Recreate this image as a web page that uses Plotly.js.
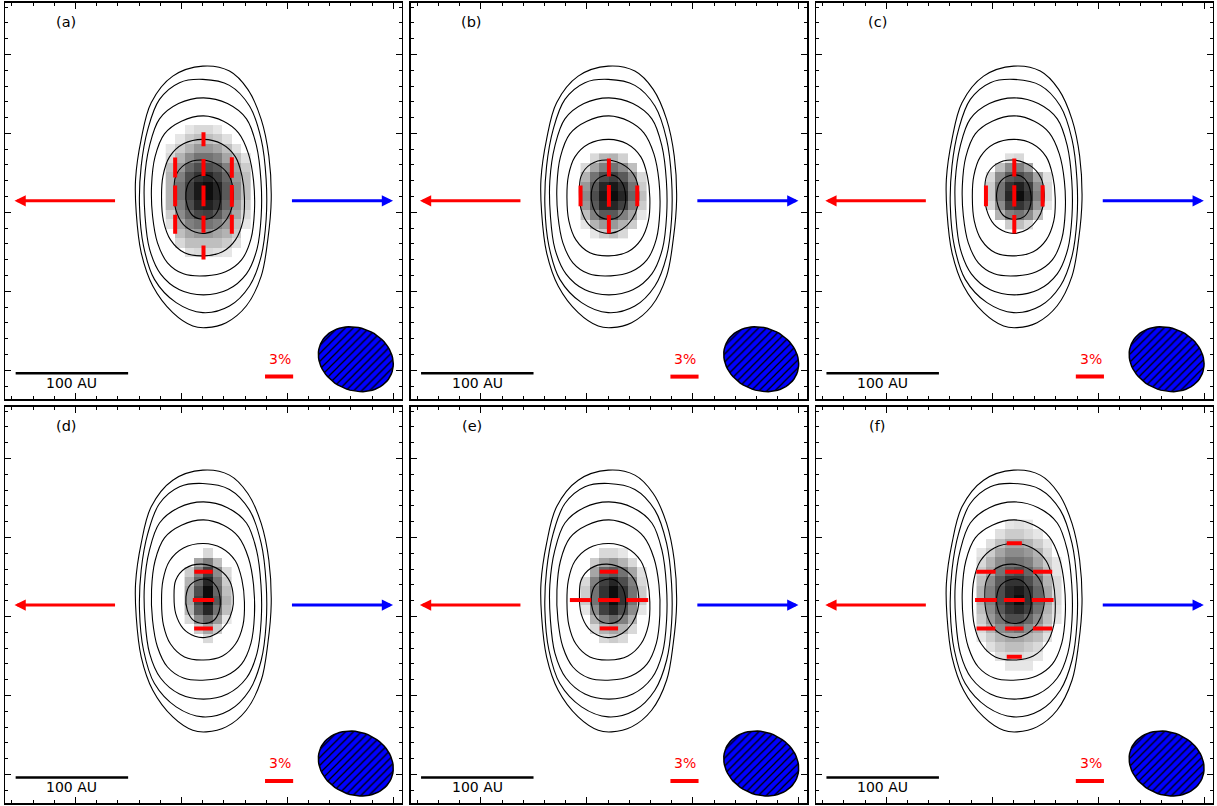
<!DOCTYPE html>
<html>
<head>
<meta charset="utf-8">
<script src="https://cdn.plot.ly/plotly-3.0.1.min.js"></script>
<style>
html,body{margin:0;padding:0;background:#ffffff;}
#chart{width:1217px;height:806px;}
</style>
</head>
<body>
<div id="chart"></div>
<script>
// ---------------- DATA (offsets in AU from the source centre) ----------------
const panelLabels = ['(a)', '(b)', '(c)', '(d)', '(e)', '(f)'];

// Stokes I contours (same in every panel)
const contour1 = [[-0.6,119.8],[-27.3,110.9],[-46.5,87.3],[-55.4,54.7],[-60.4,19.1],[-59.8,-10.5],[-55.4,-46.0],[-45.1,-75.7],[-27.3,-99.4],[-9.5,-111.3],[2.4,-112.7],[20.2,-108.3],[38.0,-93.5],[51.3,-66.9],[57.2,-34.2],[60.2,1.3],[58.1,39.8],[51.3,72.5],[39.4,99.1],[23.1,115.4]];
const contour2 = [[-0.6,108.0],[-21.3,105.1],[-39.1,90.2],[-49.5,63.6],[-55.4,30.9],[-56.9,-4.6],[-53.3,-40.2],[-43.6,-69.8],[-24.3,-90.5],[-0.6,-99.4],[23.1,-93.5],[40.9,-75.7],[51.3,-49.1],[55.7,-16.4],[55.7,19.1],[51.3,54.7],[40.9,84.3],[23.1,102.7]];
const contour3 = [[0,91.6],[-22.2,86.5],[-39.1,72.9],[-48.0,48.9],[-52.5,17.8],[-52.0,-13.3],[-48.0,-42.7],[-38.2,-64.9],[-21.3,-79.1],[0,-83.6],[21.3,-79.1],[38.2,-64.9],[47.6,-42.7],[51.3,-13.3],[51.1,17.8],[47.1,48.9],[38.2,72.9],[21.3,86.5]];
const contour4 = [[0,75.6],[-19.6,70.8],[-34.7,59.6],[-43.1,39.1],[-46.2,13.3],[-45.3,-13.3],[-40.9,-37.3],[-32.0,-55.1],[-17.8,-64.9],[1.8,-66.7],[19.6,-63.1],[33.8,-52.5],[42.2,-33.8],[45.3,-8.9],[44.5,17.8],[40.0,41.8],[31.1,60.5],[17.8,70.8]];
const contour5 = [[0,54.7],[-17.8,50.7],[-30.2,39.1],[-36.0,22.2],[-37.3,2.7],[-35.6,-17.8],[-29.3,-34.7],[-16.9,-46.2],[0,-48.9],[16.9,-45.3],[28.4,-34.7],[35.1,-17.8],[36.4,2.7],[34.2,22.2],[28.4,39.1],[16.0,50.7]];
const contour6 = [[-1.6,36.3],[-16.4,32.4],[-24.7,22.0],[-26.2,7.3],[-24.7,-7.6],[-18.0,-20.9],[-7.6,-27.7],[1.3,-28.9],[11.7,-25.3],[20.6,-16.4],[25.6,-4.6],[26.5,7.3],[23.6,20.6],[14.7,30.9]];
const contour7 = [[-3.1,22.7],[-12.0,17.6],[-15.6,7.3],[-14.4,-4.6],[-9.1,-13.5],[-0.2,-16.4],[8.7,-14.0],[13.8,-6.0],[14.9,4.3],[11.7,16.2],[5.8,22.0]];

// Polarized-intensity pixel maps (grid indices; rows listed top to bottom)
const cellSize = 8.4;
const gridX0 = 4.2;
const gridY0 = 4.4;

const colsA = [-4,-3,-2,-1,0,1,2,3,4];
const rowsA = [7,6,5,4,3,2,1,0,-1,-2,-3,-4,-5,-6];
const zA = [
 [null,null,0.10,0.15,0.15,0.10,null,null,null],
 [null,0.10,0.20,0.25,0.25,0.20,0.12,null,null],
 [0.10,0.20,0.30,0.40,0.40,0.35,0.25,0.12,null],
 [0.15,0.30,0.45,0.55,0.55,0.50,0.35,0.25,0.12],
 [0.25,0.40,0.60,0.70,0.70,0.65,0.50,0.35,0.20],
 [0.30,0.50,0.70,0.80,0.85,0.75,0.60,0.40,0.25],
 [0.30,0.55,0.75,0.90,0.95,0.85,0.65,0.45,0.25],
 [0.30,0.55,0.75,0.90,0.95,0.85,0.65,0.45,0.25],
 [0.30,0.50,0.70,0.85,0.88,0.80,0.60,0.40,0.20],
 [0.20,0.45,0.60,0.72,0.75,0.65,0.50,0.35,0.15],
 [0.12,0.35,0.50,0.55,0.55,0.50,0.40,0.25,0.10],
 [null,0.25,0.35,0.40,0.40,0.35,0.30,0.20,null],
 [null,0.15,0.25,0.25,0.25,0.25,0.20,0.12,null],
 [null,null,0.12,0.15,0.15,0.12,0.10,null,null]
];

const colsB = [-3,-2,-1,0,1,2,3];
const rowsB = [4,3,2,1,0,-1,-2,-3,-4];
const zB = [
 [null,0.15,0.28,0.30,0.18,null,null],
 [0.15,0.35,0.50,0.55,0.45,0.25,null],
 [0.30,0.55,0.70,0.75,0.65,0.45,0.15],
 [0.40,0.65,0.85,0.90,0.80,0.55,0.20],
 [0.45,0.70,0.90,0.95,0.85,0.60,0.25],
 [0.40,0.65,0.85,0.85,0.75,0.50,0.20],
 [0.25,0.50,0.65,0.65,0.50,0.35,0.10],
 [0.10,0.30,0.40,0.40,0.30,0.20,null],
 [null,0.10,0.20,0.25,0.15,null,null]
];

const colsC = [-3,-2,-1,0,1,2,3];
const rowsC = [4,3,2,1,0,-1,-2,-3];
const zC = [
 [null,null,0.12,0.15,null,null,null],
 [null,0.25,0.45,0.50,0.35,null,null],
 [0.15,0.45,0.65,0.70,0.60,0.35,0.12],
 [0.20,0.55,0.80,0.88,0.75,0.45,0.15],
 [0.20,0.55,0.85,0.95,0.80,0.50,0.15],
 [0.15,0.45,0.75,0.80,0.70,0.40,0.10],
 [null,0.30,0.50,0.55,0.45,0.25,null],
 [null,null,0.20,0.25,0.15,null,null]
];

const colsD = [-2,-1,0,1,2];
const rowsD = [5,4,3,2,1,0,-1,-2,-3,-4];
const zD = [
 [null,null,0.15,null,null],
 [null,0.35,0.50,0.25,null],
 [0.20,0.50,0.75,0.45,0.15],
 [0.30,0.60,0.85,0.55,0.20],
 [0.35,0.70,0.95,0.60,0.25],
 [0.35,0.75,0.95,0.65,0.30],
 [0.30,0.65,0.85,0.55,0.25],
 [0.15,0.45,0.60,0.40,0.10],
 [null,0.20,0.35,0.20,null],
 [null,null,0.15,null,null]
];

const colsE = [-3,-2,-1,0,1,2,3];
const rowsE = [5,4,3,2,1,0,-1,-2,-3,-4];
const zE = [
 [null,null,0.15,0.15,0.10,null,null],
 [null,0.20,0.35,0.40,0.30,0.15,null],
 [null,0.35,0.60,0.65,0.55,0.35,0.12],
 [0.15,0.50,0.75,0.85,0.70,0.50,0.15],
 [0.20,0.55,0.80,0.95,0.80,0.55,0.20],
 [0.20,0.55,0.80,0.95,0.80,0.55,0.20],
 [0.10,0.45,0.75,0.85,0.70,0.45,0.10],
 [null,0.30,0.50,0.60,0.50,0.30,null],
 [null,0.15,0.30,0.35,0.30,0.15,null],
 [null,null,0.15,0.20,0.15,null,null]
];

const colsF = [-4,-3,-2,-1,0,1,2,3,4];
const rowsF = [8,7,6,5,4,3,2,1,0,-1,-2,-3,-4,-5,-6,-7];
const zF = [
 [null,null,null,0.10,0.12,0.10,null,null,null],
 [null,null,0.12,0.20,0.20,0.15,0.10,null,null],
 [null,0.12,0.25,0.35,0.35,0.30,0.20,0.10,null],
 [0.10,0.20,0.35,0.45,0.45,0.40,0.30,0.15,null],
 [0.15,0.30,0.45,0.55,0.55,0.50,0.35,0.20,0.10],
 [0.20,0.35,0.55,0.65,0.70,0.60,0.45,0.25,0.10],
 [0.25,0.45,0.65,0.80,0.80,0.70,0.55,0.30,0.15],
 [0.30,0.50,0.70,0.85,0.90,0.80,0.60,0.35,0.15],
 [0.30,0.50,0.70,0.85,0.95,0.80,0.60,0.35,0.15],
 [0.25,0.45,0.65,0.80,0.85,0.75,0.55,0.30,0.12],
 [0.20,0.40,0.55,0.70,0.70,0.60,0.45,0.25,0.10],
 [0.15,0.30,0.45,0.50,0.55,0.45,0.35,0.20,null],
 [0.10,0.20,0.30,0.35,0.35,0.30,0.25,0.12,null],
 [null,0.12,0.20,0.25,0.25,0.20,0.15,null,null],
 [null,null,0.12,0.15,0.15,0.12,0.10,null,null],
 [null,null,null,0.10,0.10,0.10,null,null,null]
];

// Polarization vectors: positions (AU), degree (%), orientation (deg, 0 = vertical)
const vecXA = [0,0,0,0,0,-25.2,-25.2,-25.2,25.2,25.2,25.2];
const vecYA = [54.8,29.6,4.4,-20.8,-46.0,29.6,4.4,-20.8,29.6,4.4,-20.8];
const vecPA = [1.50,1.82,2.20,1.82,1.50,2.14,2.20,2.04,2.20,2.30,2.04];

const vecXB = [0,0,0,-25.2,25.2];
const vecYB = [29.6,4.4,-20.8,4.4,4.4];
const vecPB = [1.93,2.30,1.98,2.20,2.20];

const vecXC = [0,0,0,-25.2,25.2];
const vecYC = [29.6,4.4,-20.8,4.4,4.4];
const vecPC = [1.93,2.28,1.96,2.20,2.28];

const vecXD = [0,0,0];
const vecYD = [29.6,4.4,-20.8];
const vecPD = [1.96,2.28,2.00];

const vecXE = [0,0,0,-25.2,25.2];
const vecYE = [29.6,4.4,-20.8,4.4,4.4];
const vecPE = [1.96,2.33,1.96,2.28,2.33];

const vecXF = [0,-25.2,0,25.2,-25.2,0,25.2,-25.2,0,25.2,0];
const vecYF = [54.8,29.6,29.6,29.6,4.4,4.4,4.4,-20.8,-20.8,-20.8,-46.0];
const vecPF = [1.61,2.07,1.96,2.04,2.33,2.22,2.33,2.00,1.96,2.07,1.61];

const vecOrient = [0,0,0,90,90,90];

const scaleBarAU = 100;     // length of the scale bar
const refPercent = 3;       // reference vector
const auPerPercent = 25/3;  // vector length per percent
const beamMajor = 68.4, beamMinor = 55.6, beamPA = 67; // AU, AU, deg

// ---------------- LAYOUT HELPERS ----------------
const W = 1217, H = 806;
const colPx = [[5.3,401.7],[410.7,807.1],[816.1,1212.5]];
const rowPx = [[2.7,399.0],[406.7,803.3]];
const R = 176.2;
const FONT = 'DejaVu Sans, Liberation Sans, sans-serif';

const panels = [
  {cols: colsA, rows: rowsA, z: zA, vx: vecXA, vy: vecYA, vp: vecPA},
  {cols: colsB, rows: rowsB, z: zB, vx: vecXB, vy: vecYB, vp: vecPB},
  {cols: colsC, rows: rowsC, z: zC, vx: vecXC, vy: vecYC, vp: vecPC},
  {cols: colsD, rows: rowsD, z: zD, vx: vecXD, vy: vecYD, vp: vecPD},
  {cols: colsE, rows: rowsE, z: zE, vx: vecXE, vy: vecYE, vp: vecPE},
  {cols: colsF, rows: rowsF, z: zF, vx: vecXF, vy: vecYF, vp: vecPF}
];
const contours = [contour1, contour2, contour3, contour4, contour5, contour6, contour7];

const traces = [];
const annotations = [];
const layout = {
  width: W, height: H,
  margin: {l:0, r:0, t:0, b:0},
  paper_bgcolor: '#ffffff', plot_bgcolor: '#ffffff',
  showlegend: false,
  font: {family: FONT, size: 14, color: '#000000'}
};

function axisBase() {
  return {
    range: [-R, R], showticklabels: false, showgrid: false, zeroline: false,
    showline: true, linecolor: '#000000', linewidth: 1.5, mirror: 'allticks',
    ticks: 'inside', ticklen: 6, tickwidth: 1.2, tickcolor: '#000000',
    tickmode: 'linear', fixedrange: true
  };
}

panels.forEach((p, k) => {
  const n = k + 1;
  const sfx = n > 1 ? String(n) : '';
  const xa = 'x' + sfx, ya = 'y' + sfx;
  const col = k % 3, row = Math.floor(k / 3);

  const xax = axisBase();
  Object.assign(xax, {
    domain: [colPx[col][0] / W, colPx[col][1] / W], anchor: ya,
    tick0: -19.6, dtick: 94.2,
    minor: {ticks: 'inside', ticklen: 3, tickwidth: 1, tickcolor: '#000000', tick0: -19.6, dtick: 18.84, showgrid: false}
  });
  const yax = axisBase();
  Object.assign(yax, {
    domain: [1 - rowPx[row][1] / H, 1 - rowPx[row][0] / H], anchor: xa,
    tick0: -10.2, dtick: 70.2,
    minor: {ticks: 'inside', ticklen: 3, tickwidth: 1, tickcolor: '#000000', tick0: -10.2, dtick: 14.04, showgrid: false}
  });
  layout['xaxis' + sfx] = xax;
  layout['yaxis' + sfx] = yax;

  // grey-scale polarized intensity
  const yAsc = p.rows.slice().reverse();
  const zAsc = p.z.slice().reverse();
  traces.push({
    type: 'heatmap', xaxis: xa, yaxis: ya,
    x: p.cols.map(i => gridX0 + cellSize * i),
    y: yAsc.map(j => gridY0 + cellSize * j),
    z: zAsc, zmin: 0, zmax: 1, zsmooth: false,
    colorscale: [[0, '#ffffff'], [1, '#000000']],
    showscale: false, hoverinfo: 'skip'
  });

  // contours
  contours.forEach(c => {
    traces.push({
      type: 'scatter', mode: 'lines', xaxis: xa, yaxis: ya,
      x: c.map(q => q[0]).concat([c[0][0]]),
      y: c.map(q => q[1]).concat([c[0][1]]),
      line: {color: '#000000', width: 1.1, shape: 'spline', smoothing: 1},
      hoverinfo: 'skip'
    });
  });

  // polarization vectors
  const th = vecOrient[k] * Math.PI / 180;
  const vx = [], vy = [];
  p.vx.forEach((x0, m) => {
    const half = p.vp[m] * auPerPercent / 2;
    const dx = half * Math.sin(th), dy = half * Math.cos(th);
    vx.push(x0 - dx, x0 + dx, null);
    vy.push(p.vy[m] - dy, p.vy[m] + dy, null);
  });
  traces.push({
    type: 'scatter', mode: 'lines', xaxis: xa, yaxis: ya,
    x: vx, y: vy, line: {color: '#ff0000', width: 4}, hoverinfo: 'skip'
  });

  // scale bar
  const sbX0 = -167, sbY = -153.3;
  traces.push({
    type: 'scatter', mode: 'lines', xaxis: xa, yaxis: ya,
    x: [sbX0, sbX0 + scaleBarAU], y: [sbY, sbY],
    line: {color: '#000000', width: 2.5}, hoverinfo: 'skip'
  });

  // reference vector
  const pbX0 = 54.7, pbY = -156.3;
  traces.push({
    type: 'scatter', mode: 'lines', xaxis: xa, yaxis: ya,
    x: [pbX0, pbX0 + refPercent * auPerPercent], y: [pbY, pbY],
    line: {color: '#ff0000', width: 4}, hoverinfo: 'skip'
  });

  // beam
  const bx = 135.4, by = -140.8;
  const pa = beamPA * Math.PI / 180;
  const ux = -Math.sin(pa), uy = Math.cos(pa);
  const ex = [], ey = [];
  for (let t = 0; t <= 72; t++) {
    const a = 2 * Math.PI * t / 72;
    const A = beamMajor / 2 * Math.cos(a), B = beamMinor / 2 * Math.sin(a);
    ex.push(bx + A * ux - B * uy);
    ey.push(by + A * uy + B * ux);
  }
  traces.push({
    type: 'scatter', mode: 'lines', xaxis: xa, yaxis: ya,
    x: ex, y: ey, fill: 'toself', fillcolor: '#0000ff',
    fillpattern: {shape: '/', fgcolor: '#000000', bgcolor: '#0000ff', size: 5.6, solidity: 0.22},
    line: {color: '#000000', width: 1.5}, hoverinfo: 'skip'
  });

  // texts
  annotations.push({xref: xa, yref: ya, x: -121.8, y: 159, text: panelLabels[k], showarrow: false,
    font: {family: FONT, size: 14.5, color: '#000000'}, xanchor: 'center', yanchor: 'middle'});
  annotations.push({xref: xa, yref: ya, x: sbX0 + scaleBarAU / 2, y: -161.8, text: scaleBarAU + ' AU', showarrow: false,
    font: {family: FONT, size: 14, color: '#000000'}, xanchor: 'center', yanchor: 'middle'});
  annotations.push({xref: xa, yref: ya, x: 68, y: -140.6, text: refPercent + '%', showarrow: false,
    font: {family: FONT, size: 14, color: '#ff0000'}, xanchor: 'center', yanchor: 'middle'});

  // outflow arrows
  annotations.push({xref: xa, yref: ya, axref: xa, ayref: ya, x: -168, y: 0, ax: -77.3, ay: 0,
    text: '', showarrow: true, arrowhead: 2, arrowsize: 0.75, arrowwidth: 3, arrowcolor: '#ff0000', standoff: 0});
  annotations.push({xref: xa, yref: ya, axref: xa, ayref: ya, x: 168.5, y: 0, ax: 77.3, ay: 0,
    text: '', showarrow: true, arrowhead: 2, arrowsize: 0.75, arrowwidth: 3, arrowcolor: '#0000ff', standoff: 0});
});

layout.annotations = annotations;
Plotly.newPlot('chart', traces, layout, {staticPlot: true, displayModeBar: false});
</script>
</body>
</html>
